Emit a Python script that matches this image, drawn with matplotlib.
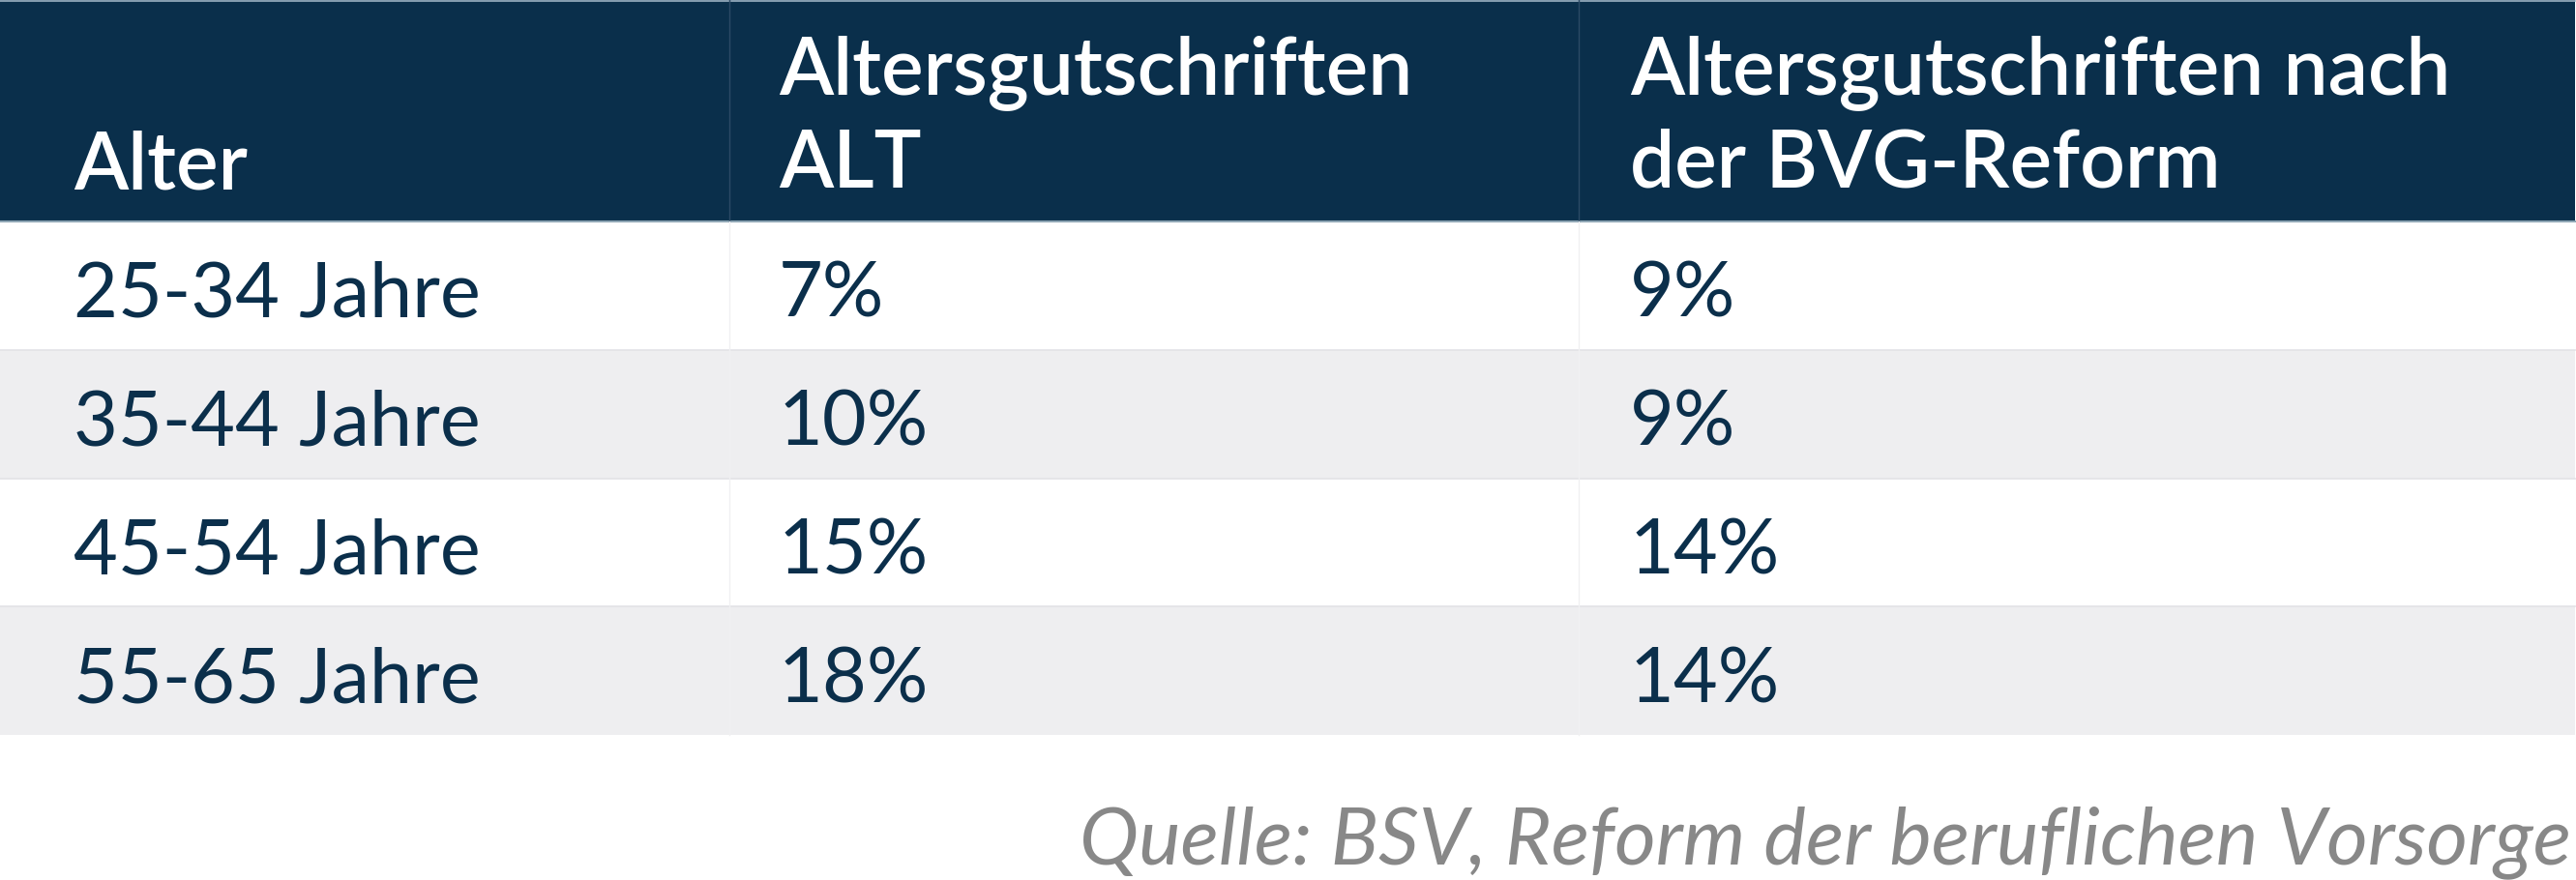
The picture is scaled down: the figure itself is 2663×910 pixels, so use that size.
import matplotlib
matplotlib.use("Agg")
import matplotlib.pyplot as plt
from matplotlib.patches import Rectangle

# ---- data ----
headers = ["Alter", "Altersgutschriften\nALT", "Altersgutschriften nach\nder BVG-Reform"]
age_groups = ["25-34 Jahre", "35-44 Jahre", "45-54 Jahre", "55-65 Jahre"]
credits_old = ["7%", "10%", "15%", "18%"]
credits_new = ["9%", "9%", "14%", "14%"]
source = "Quelle: BSV, Reform der beruflichen Vorsorge"

# ---- style ----
W, H = 2663, 910
NAVY = "#0a2f4b"
TEXT = "#0b2f4b"
ALT_BG = "#eeeef0"
FONT = "Lato"

fig = plt.figure(figsize=(W / 100, H / 100), dpi=100)
ax = fig.add_axes([0, 0, 1, 1])
ax.set_xlim(0, W)
ax.set_ylim(H, 0)
ax.axis("off")

col_edges = [0, 754, 1632, 2662]
text_x = [76, 805, 1685]
header_h = 229
row_h = 132.75

# header
ax.add_patch(Rectangle((0, 0), col_edges[-1], header_h, facecolor=NAVY, edgecolor="none"))
ax.plot([0, col_edges[-1]], [0.5, 0.5], color="#9db3c4", lw=1.2)
ax.plot([0, col_edges[-1]], [header_h, header_h], color="#8fa6b5", lw=1.5)
for xe in col_edges[1:-1]:
    ax.plot([xe, xe], [0, header_h], color="#2c4a65", lw=1)

HFS = 59
for i, h in enumerate(headers):
    lines = h.split("\n")
    if len(lines) == 1:
        ax.text(text_x[i], 195, lines[0], color="white", fontsize=HFS, family=FONT,
                weight="semibold", va="baseline", ha="left")
    else:
        ax.text(text_x[i], 97, lines[0], color="white", fontsize=HFS, family=FONT,
                weight="semibold", va="baseline", ha="left")
        ax.text(text_x[i], 194, lines[1], color="white", fontsize=HFS, family=FONT,
                weight="semibold", va="baseline", ha="left")

# body rows
columns = [age_groups, credits_old, credits_new]
for r in range(len(age_groups)):
    top = header_h + r * row_h
    fc = "white" if r % 2 == 0 else ALT_BG
    ax.add_patch(Rectangle((0, top), col_edges[-1], row_h, facecolor=fc, edgecolor="none"))
    if r > 0:
        ax.plot([0, col_edges[-1]], [top, top], color="#e2e2e6", lw=1.2)
    for c, col in enumerate(columns):
        ax.text(text_x[c], top + 99, col[r], color=TEXT, fontsize=57, family=FONT,
                va="baseline", ha="left")
for xe in col_edges[1:-1]:
    ax.plot([xe, xe], [header_h, header_h + 4 * row_h], color="#f0f0f2", lw=1)

# source
ax.text(2658, 893, source, color="#888888", fontsize=59, family=FONT, style="italic",
        va="baseline", ha="right")

fig.savefig("out.png", dpi=100, facecolor="white")
